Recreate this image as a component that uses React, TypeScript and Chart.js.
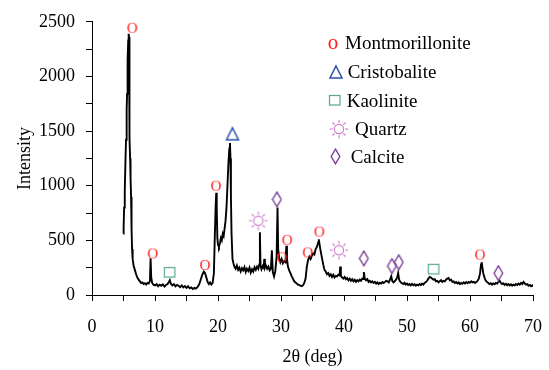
import React, { useEffect, useRef } from 'react';
import { Chart, registerables } from 'chart.js';
Chart.register(...registerables);

// ---- XRD pattern: 2θ (deg) and intensity ----
const twoTheta = [
  5.0, 5.02, 5.1, 5.2, 5.3, 5.4, 5.5, 5.57, 5.65, 5.75, 5.82, 5.88, 5.93, 5.97, 6.05, 6.12, 6.2, 6.28, 6.36, 6.45,
  6.6, 6.8, 7.0, 7.2, 7.4, 7.6, 7.8, 8.0, 8.2, 8.4, 8.6, 8.8, 9.0, 9.2, 9.3, 9.4, 9.55, 9.75,
  10.0, 10.25, 10.5, 10.75, 11.0, 11.25, 11.5, 11.75, 12.0, 12.2, 12.35, 12.5, 12.75, 13.0, 13.25, 13.5, 13.75,
  14.0, 14.25, 14.5, 14.75, 15.0, 15.25, 15.5, 15.75, 16.0, 16.25, 16.5, 16.75, 17.0, 17.25, 17.5, 17.75, 17.95,
  18.15, 18.35, 18.55, 18.75, 18.95, 19.15, 19.35, 19.5, 19.62, 19.72, 19.8, 19.9, 20.0, 20.15, 20.3, 20.45, 20.6,
  20.75, 20.9, 21.05, 21.2, 21.35, 21.5, 21.65, 21.8, 21.9, 21.98, 22.05, 22.15, 22.3, 22.45, 22.6, 22.8,
  23.0, 23.2, 23.4, 23.6, 23.8, 24.0, 24.2, 24.4, 24.6, 24.8, 25.0, 25.2, 25.4, 25.6, 25.8, 26.0, 26.2, 26.4,
  26.55, 26.65, 26.75, 26.9, 27.1, 27.25, 27.35, 27.45, 27.6, 27.8, 28.0, 28.2, 28.4, 28.55, 28.7, 28.9, 29.1,
  29.3, 29.45, 29.55, 29.7, 29.9, 30.1, 30.3, 30.5, 30.7, 30.85, 30.95, 31.1, 31.3, 31.5, 31.7, 31.9, 32.1,
  32.3, 32.5, 32.7, 32.9, 33.1, 33.3, 33.5, 33.7, 33.9, 34.1, 34.3, 34.5, 34.7, 34.9, 35.1, 35.3, 35.5, 35.7,
  35.9, 36.0, 36.1, 36.3, 36.5, 36.7, 36.9, 37.1, 37.3, 37.5, 37.7, 37.9, 38.1, 38.3, 38.5, 38.7, 38.9, 39.1,
  39.3, 39.4, 39.5, 39.7, 39.9, 40.1, 40.3, 40.5, 40.7, 40.9, 41.1, 41.3, 41.5, 41.7, 41.9, 42.1, 42.3, 42.5,
  42.7, 42.9, 43.05, 43.15, 43.3, 43.5, 43.7, 43.9, 44.1, 44.3, 44.5, 44.7, 44.9, 45.1, 45.3, 45.5, 45.7, 45.9,
  46.1, 46.3, 46.5, 46.7, 46.9, 47.1, 47.3, 47.5, 47.65, 47.85, 48.05, 48.25, 48.45, 48.6, 48.75, 48.95, 49.15,
  49.4, 49.6, 49.8, 50.0, 50.2, 50.4, 50.6, 50.8, 51.0, 51.2, 51.4, 51.6, 51.8, 52.0, 52.2, 52.4, 52.6, 52.8,
  53.0, 53.2, 53.4, 53.6, 53.8, 54.0, 54.2, 54.4, 54.6, 54.8, 55.0, 55.2, 55.4, 55.6, 55.8, 56.0, 56.2, 56.4,
  56.6, 56.8, 57.0, 57.2, 57.4, 57.6, 57.8, 58.0, 58.2, 58.4, 58.6, 58.8, 59.0, 59.2, 59.4, 59.6, 59.8, 60.0,
  60.2, 60.4, 60.6, 60.8, 61.0, 61.2, 61.4, 61.6, 61.75, 61.85, 61.95, 62.1, 62.3, 62.5, 62.7, 62.9, 63.1,
  63.3, 63.5, 63.7, 63.9, 64.1, 64.3, 64.5, 64.7, 64.9, 65.1, 65.3, 65.5, 65.7, 65.9, 66.1, 66.3, 66.5, 66.7,
  66.9, 67.1, 67.3, 67.5, 67.7, 67.9, 68.1, 68.3, 68.5, 68.7, 68.9, 69.1, 69.3, 69.5, 69.7, 69.9, 70.0,
];
const intensity = [
  560, 620, 800, 950, 1200, 1420, 1700, 1840, 2150, 2330, 2390, 2360, 1900, 1440, 1250, 1075, 900, 600, 420, 330,
  270, 230, 190, 160, 140, 125, 110, 115, 100, 108, 95, 110, 105, 130, 335, 160, 110, 95,
  88, 100, 80, 95, 85, 98, 78, 92, 100, 120, 135, 105, 88, 100, 80, 92, 85,
  72, 88, 70, 82, 65, 80, 62, 70, 55, 65, 58, 75, 95, 140, 185, 215, 200,
  160, 120, 100, 115, 95, 110, 200, 550, 800, 935, 780, 520, 460, 440, 470, 520, 500,
  560, 540, 610, 680, 800, 1000, 1200, 1340, 1390, 1250, 900, 560, 330, 290, 260, 240,
  270, 230, 250, 215, 245, 225, 255, 210, 240, 220, 250, 205, 235, 215, 255, 230, 260, 240,
  280, 575, 270, 235, 265, 250, 330, 250, 270, 240, 260, 225, 240, 410, 210, 170, 220,
  350, 800, 420, 340, 300, 330, 290, 310, 300, 450, 330, 260, 225, 200, 170, 150, 125,
  115, 105, 95, 90, 85, 80, 90, 110, 150, 260, 320, 350, 330, 360, 380, 370, 420, 440,
  480, 510, 470, 400, 340, 280, 230, 215, 190, 200, 175, 190, 165, 185, 160, 175, 170, 185,
  180, 260, 175, 160, 150, 165, 145, 155, 135, 150, 130, 145, 125, 140, 120, 135, 125, 140,
  130, 150, 145, 210, 150, 135, 145, 120, 130, 115, 125, 110, 120, 105, 115, 100, 112, 105,
  118, 110, 120, 130, 125, 115, 140, 170, 130, 115, 125, 140, 160, 200, 140, 120, 110,
  100, 112, 95, 105, 92, 100, 88, 102, 90, 98, 85, 95, 88, 100, 90, 105, 95, 110,
  118, 130, 150, 165, 160, 150, 140, 145, 125, 130, 115, 125, 135, 120, 130, 125, 140, 150,
  155, 135, 140, 120, 125, 110, 118, 105, 115, 100, 110, 102, 115, 105, 118, 108, 120, 112,
  125, 115, 120, 110, 118, 130, 150, 200, 280, 300, 260, 200, 160, 130, 120, 110, 100,
  108, 95, 105, 98, 110, 105, 120, 130, 110, 100, 108, 92, 102, 90, 100, 88, 98, 85,
  95, 88, 100, 92, 105, 95, 110, 100, 120, 105, 95, 100, 85, 92, 80, 88, 78,
];

// ---- Phase markers (placed above the peaks) ----
const montmorilloniteX = [6.4, 9.65, 17.95, 19.7, 30.15, 31.0, 34.25, 36.1, 61.6];
const montmorilloniteY = [2445, 380, 275, 1000, 345, 505, 390, 580, 370];
const cristobaliteX = [22.3];
const cristobaliteY = [1475];
const kaoliniteX = [12.35, 54.25];
const kaoliniteY = [205, 235];
const quartzX = [26.4, 39.2];
const quartzY = [680, 410];
const calciteX = [29.35, 43.15, 47.6, 48.7, 64.5];
const calciteY = [875, 335, 265, 300, 200];

const legendLabels = ['Montmorillonite', 'Cristobalite', 'Kaolinite', 'Quartz', 'Calcite'];

const xMin = 0, xMax = 70, xStep = 5, xLabelStep = 10;
const yMin = 0, yMax = 2500, yStep = 250, yLabelStep = 500;

const SERIF = '"Liberation Serif", "Times New Roman", serif';

function makeCanvas(w: number, h: number, draw: (ctx: CanvasRenderingContext2D) => void) {
  const c = document.createElement('canvas');
  c.width = w;
  c.height = h;
  const ctx = c.getContext('2d')!;
  draw(ctx);
  return c;
}

function buildMarkers() {
  const mont = makeCanvas(14, 14, (ctx) => {
    ctx.fillStyle = '#ff1c1c';
    ctx.font = `15px ${SERIF}`;
    ctx.textAlign = 'center';
    ctx.textBaseline = 'alphabetic';
    ctx.fillText('O', 7, 7 + 5);
  });
  const montLegend = makeCanvas(14, 14, (ctx) => {
    ctx.fillStyle = '#ff1c1c';
    ctx.font = `21px ${SERIF}`;
    ctx.textAlign = 'center';
    ctx.textBaseline = 'alphabetic';
    ctx.fillText('o', 7, 7 + 4.8);
  });
  const tri = makeCanvas(16, 16, (ctx) => {
    ctx.strokeStyle = '#2a4fae';
    ctx.lineWidth = 1.5;
    ctx.beginPath();
    ctx.moveTo(8, 2);
    ctx.lineTo(14, 14);
    ctx.lineTo(2, 14);
    ctx.closePath();
    ctx.stroke();
  });
  const sq = makeCanvas(14, 13, (ctx) => {
    ctx.strokeStyle = '#56a88a';
    ctx.lineWidth = 1.2;
    ctx.strokeRect(1.5, 1.5, 10.5, 9.5);
  });
  const sun = makeCanvas(20, 20, (ctx) => {
    ctx.strokeStyle = '#cc78cc';
    ctx.lineWidth = 1.1;
    ctx.beginPath();
    ctx.arc(10, 10, 4.6, 0, Math.PI * 2);
    ctx.stroke();
    for (let i = 0; i < 8; i++) {
      const a = (i * Math.PI) / 4;
      ctx.beginPath();
      ctx.moveTo(10 + Math.cos(a) * 6.2, 10 + Math.sin(a) * 6.2);
      ctx.lineTo(10 + Math.cos(a) * 9.2, 10 + Math.sin(a) * 9.2);
      ctx.stroke();
    }
  });
  const dia = makeCanvas(11, 17, (ctx) => {
    ctx.strokeStyle = '#7b3f99';
    ctx.lineWidth = 1.4;
    ctx.beginPath();
    ctx.moveTo(5.5, 1.2);
    ctx.lineTo(9.8, 8.5);
    ctx.lineTo(5.5, 15.8);
    ctx.lineTo(1.2, 8.5);
    ctx.closePath();
    ctx.stroke();
  });
  return { mont, montLegend, tri, sq, sun, dia };
}

const zip = (xs: number[], ys: number[]) => xs.map((x, i) => ({ x, y: ys[i] }));

export default function App() {
  const ref = useRef<HTMLCanvasElement | null>(null);

  useEffect(() => {
    if (!ref.current) return;
    const m = buildMarkers();
    const legendImgs = [m.montLegend, m.tri, m.sq, m.sun, m.dia];

    const legendPlugin = {
      id: 'phaseLegend',
      afterDraw(chart: any) {
        const ctx = chart.ctx as CanvasRenderingContext2D;
        const ca = chart.chartArea;
        const ox = ca.right - 203;
        const oy = ca.top;
        // marker centre offsets and text start/baselines relative to the legend origin
        const rows = [
          { mx: 2.5, my: 22.5, tx: 15, ty: 27 },
          { mx: 5.8, my: 50, tx: 17.7, ty: 56.5 },
          { mx: 5.4, my: 79, tx: 16.7, ty: 85 },
          { mx: 9, my: 107.5, tx: 25, ty: 113 },
          { mx: 5.4, my: 135, tx: 20.7, ty: 141.5 },
        ];
        ctx.save();
        ctx.font = `19px ${SERIF}`;
        ctx.fillStyle = '#000';
        ctx.textAlign = 'left';
        ctx.textBaseline = 'alphabetic';
        rows.forEach((r, i) => {
          const img = legendImgs[i];
          ctx.drawImage(img, Math.round(ox + r.mx - img.width / 2), Math.round(oy + r.my - img.height / 2));
          ctx.fillText(legendLabels[i], ox + r.tx, oy + r.ty);
        });
        ctx.restore();
      },
    };

    const markerDs = (xs: number[], ys: number[], img: HTMLCanvasElement) => ({
      data: zip(xs, ys),
      showLine: false,
      pointStyle: img,
      pointRadius: 6,
      pointHoverRadius: 6,
      order: 0,
      clip: false as any,
    });

    const chart = new Chart(ref.current, {
      type: 'scatter',
      data: {
        datasets: [
          {
            data: zip(twoTheta, intensity),
            showLine: true,
            borderColor: '#000',
            borderWidth: 1.9,
            pointRadius: 0,
            tension: 0,
            order: 1,
          } as any,
          markerDs(montmorilloniteX, montmorilloniteY, m.mont),
          markerDs(cristobaliteX, cristobaliteY, m.tri),
          markerDs(kaoliniteX, kaoliniteY, m.sq),
          markerDs(quartzX, quartzY, m.sun),
          markerDs(calciteX, calciteY, m.dia),
        ],
      },
      options: {
        responsive: false,
        animation: false,
        events: [],
        layout: { padding: { left: 0, right: 16, top: 20, bottom: 0 } },
        plugins: { legend: { display: false }, tooltip: { enabled: false } },
        scales: {
          x: {
            type: 'linear',
            min: xMin,
            max: xMax,
            afterFit: (s: any) => { s.height = 75; s.paddingLeft = 0; s.paddingRight = 0; },
            border: { display: true, color: '#000', width: 1 },
            grid: { drawOnChartArea: false, drawTicks: true, tickLength: 6, color: '#000', tickColor: '#000', tickWidth: 1 },
            ticks: {
              stepSize: xStep,
              autoSkip: false,
              maxRotation: 0,
              padding: 15,
              color: '#000',
              font: { family: SERIF, size: 18 },
              callback: (v: any) => (Number(v) % xLabelStep === 0 ? String(v) : ''),
            },
            title: { display: true, text: '2θ (deg)', color: '#000', font: { family: SERIF, size: 18 }, padding: { top: 0, bottom: 2 } },
          },
          y: {
            type: 'linear',
            min: yMin,
            max: yMax,
            afterFit: (s: any) => { s.width = 92; },
            border: { display: true, color: '#000', width: 1 },
            grid: { drawOnChartArea: false, drawTicks: true, tickLength: 6, color: '#000', tickColor: '#000', tickWidth: 1 },
            ticks: {
              stepSize: yStep,
              autoSkip: false,
              padding: 11,
              color: '#000',
              font: { family: SERIF, size: 18 },
              callback: (v: any) => (Number(v) % yLabelStep === 0 ? String(v) : ''),
            },
            title: { display: true, text: 'Intensity', color: '#000', font: { family: SERIF, size: 18 }, padding: { top: 14, bottom: 0 } },
          },
        },
      },
      plugins: [legendPlugin],
    } as any);

    return () => chart.destroy();
  }, []);

  return (
    <div style={{ position: 'fixed', left: 0, top: 0, width: 549, height: 370, background: '#fff' }}>
      <canvas ref={ref} width={549} height={370} style={{ display: 'block' }} />
    </div>
  );
}
